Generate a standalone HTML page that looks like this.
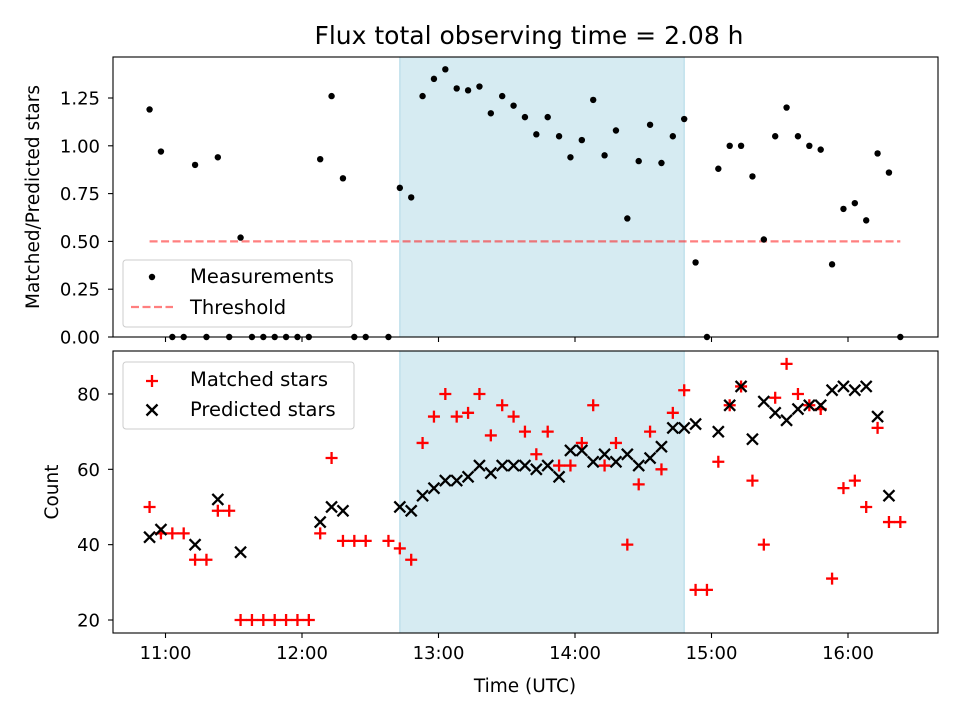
<!DOCTYPE html>
<html><head><meta charset="utf-8"><style>
html,body{margin:0;padding:0;background:#fff;}
svg{display:block;font-family:"DejaVu Sans","Liberation Sans",sans-serif;}
</style></head><body>
<svg id="fig" width="960" height="720" viewBox="0 0 960 720" xmlns="http://www.w3.org/2000/svg"></svg>
<script>
const times = ["10:53","10:58","11:03","11:08","11:13","11:18","11:23","11:28","11:33","11:38","11:43","11:48","11:53","11:58","12:03","12:08","12:13","12:18","12:23","12:28","12:33","12:38","12:43","12:48","12:53","12:58","13:03","13:08","13:13","13:18","13:23","13:28","13:33","13:38","13:43","13:48","13:53","13:58","14:03","14:08","14:13","14:18","14:23","14:28","14:33","14:38","14:43","14:48","14:53","14:58","15:03","15:08","15:13","15:18","15:23","15:28","15:33","15:38","15:43","15:48","15:53","15:58","16:03","16:08","16:13","16:18","16:23"];
const ratio = [1.19,0.97,0,0,0.90,0,0.94,0,0.52,0,0,0,0,0,0,0.93,1.26,0.83,0,0,null,0,0.78,0.73,1.26,1.35,1.40,1.30,1.29,1.31,1.17,1.26,1.21,1.15,1.06,1.15,1.05,0.94,1.03,1.24,0.95,1.08,0.62,0.92,1.11,0.91,1.05,1.14,0.39,0,0.88,1.00,1.00,0.84,0.51,1.05,1.20,1.05,1.00,0.98,0.38,0.67,0.70,0.61,0.96,0.86,0];
const matched = [50,43,43,43,36,36,49,49,20,20,20,20,20,20,20,43,63,41,41,41,null,41,39,36,67,74,80,74,75,80,69,77,74,70,64,70,61,61,67,77,61,67,40,56,70,60,75,81,28,28,62,77,82,57,40,79,88,80,77,76,31,55,57,50,71,46,46];
const predicted = [42,44,null,null,40,null,52,null,38,null,null,null,null,null,null,46,50,49,null,null,null,null,50,49,53,55,57,57,58,61,59,61,61,61,60,61,58,65,65,62,64,62,64,61,63,66,71,71,72,null,70,77,82,68,78,75,73,76,77,77,81,82,81,82,74,53,null];
const threshold = [0.5];
const spanStartEnd = ["12:43","14:48"];
const xTickLabels = ["11:00","12:00","13:00","14:00","15:00","16:00"];
const topYTicks = [0.00,0.25,0.50,0.75,1.00,1.25];
const botYTicks = [20,40,60,80];

const NS="http://www.w3.org/2000/svg";
const svg=document.getElementById('fig');
function el(tag,attrs,parent){const e=document.createElementNS(NS,tag);for(const k in attrs)e.setAttribute(k,attrs[k]);(parent||svg).appendChild(e);return e;}
function mins(t){const p=t.split(':');return (+p[0])*60+(+p[1]);}
const L=113,R=938;
const T1=57,B1=337,T2=351,B2=633;
const x0=mins("11:00"), pxPerMin=136.5/60;
function X(t){return 165.5+(mins(t)-x0)*pxPerMin;}
function Y1(v){return B1-v*191.2;}
function Y2(v){return 620-(v-20)*3.767;}
const TICK_FS='18', LEG_FS='19.5', LAB_FS='18.5';

const title=el('text',{x:529,y:44,'text-anchor':'middle','font-size':'25','fill':'#000'});
title.textContent="Flux total observing time = 2.08 h";



function panel(T,B,name){
  const g=el('g',{});
  
  
  const xs=X(spanStartEnd[0]), xe=X(spanStartEnd[1]);
  const sp=el('rect',{x:xs,y:T,width:xe-xs,height:B-T,fill:'#add8e6','fill-opacity':0.5,stroke:'#add8e6','stroke-width':1},g);
  
  
  return g;
}
const gTop=panel(T1,B1,'top-panel');
const gBot=panel(T2,B2,'bottom-panel');

const thr=el('line',{x1:X(times[0]),x2:X(times[times.length-1]),y1:Y1(threshold[0]),y2:Y1(threshold[0]),stroke:'#ff0000','stroke-opacity':0.5,'stroke-width':2.2,'stroke-dasharray':'8,3.5'},gTop);



ratio.forEach((v,i)=>{ if(v===null)return;
  const c=el('circle',{cx:X(times[i]),cy:Y1(v),r:3.2,fill:'#000'},gTop);
  
  
});
function plus(cx,cy,g){return el('path',{d:`M${cx-6},${cy}H${cx+6}M${cx},${cy-6}V${cy+6}`,stroke:'#ff0000','stroke-width':2.3,fill:'none'},g);}
function cross(cx,cy,g){return el('path',{d:`M${cx-5.5},${cy-5.5}L${cx+5.5},${cy+5.5}M${cx-5.5},${cy+5.5}L${cx+5.5},${cy-5.5}`,stroke:'#000','stroke-width':2.3,fill:'none'},g);}
matched.forEach((v,i)=>{ if(v===null)return;
  const p=plus(X(times[i]),Y2(v),gBot);
  
  
});
predicted.forEach((v,i)=>{ if(v===null)return;
  const p=cross(X(times[i]),Y2(v),gBot);
  
  
});

[[T1,B1,'top-axes-frame'],[T2,B2,'bottom-axes-frame']].forEach(([T,B,n])=>{
  const r=el('rect',{x:L,y:T,width:R-L,height:B-T,fill:'none',stroke:'#000','stroke-width':1.1});
  
  
});
xTickLabels.forEach(t=>{
  const x=X(t);
  el('line',{x1:x,x2:x,y1:B1,y2:B1+5,stroke:'#000','stroke-width':1.1});
  el('line',{x1:x,x2:x,y1:B2,y2:B2+5,stroke:'#000','stroke-width':1.1});
  const tx=el('text',{x:x,y:B2+26,'text-anchor':'middle','font-size':TICK_FS});
  tx.textContent=t;
  
  
});
topYTicks.forEach(v=>{
  const y=Y1(v);
  el('line',{x1:L-5,x2:L,y1:y,y2:y,stroke:'#000','stroke-width':1.1});
  const tx=el('text',{x:L-13,y:y+6.5,'text-anchor':'end','font-size':TICK_FS});
  tx.textContent=v.toFixed(2);
  
  
});
botYTicks.forEach(v=>{
  const y=Y2(v);
  el('line',{x1:L-5,x2:L,y1:y,y2:y,stroke:'#000','stroke-width':1.1});
  const tx=el('text',{x:L-13,y:y+6.5,'text-anchor':'end','font-size':TICK_FS});
  tx.textContent=String(v);
  
  
});
let a=el('text',{x:0,y:0,'text-anchor':'middle','font-size':LAB_FS,transform:'translate(39,197) rotate(-90)'});
a.textContent="Matched/Predicted stars";


a=el('text',{x:0,y:0,'text-anchor':'middle','font-size':LAB_FS,transform:'translate(58,492) rotate(-90)'});
a.textContent="Count";


a=el('text',{x:525,y:692,'text-anchor':'middle','font-size':LAB_FS});
a.textContent="Time (UTC)";



function legend(x,y,w,h,name){
  const g=el('g',{});
  
  
  el('rect',{x:x,y:y,width:w,height:h,rx:3,fill:'#fff','fill-opacity':0.8,stroke:'#cccccc','stroke-width':1},g);
  return g;
}
const lg1=legend(123,260,229,67,'top-legend');
el('circle',{cx:152,cy:277,r:3.2,fill:'#000'},lg1);
let t=el('text',{x:190,y:283,'font-size':LEG_FS},lg1);t.textContent="Measurements";


el('line',{x1:131,x2:173,y1:307,y2:307,stroke:'#ff0000','stroke-opacity':0.5,'stroke-width':2.2,'stroke-dasharray':'8,3.5'},lg1);
t=el('text',{x:190,y:314,'font-size':LEG_FS},lg1);t.textContent="Threshold";



const lg2=legend(123,362,231,67,'bottom-legend');
plus(152,381,lg2);
t=el('text',{x:190,y:386,'font-size':LEG_FS},lg2);t.textContent="Matched stars";


cross(152,410,lg2);
t=el('text',{x:190,y:416,'font-size':LEG_FS},lg2);t.textContent="Predicted stars";


</script>
</body></html>
